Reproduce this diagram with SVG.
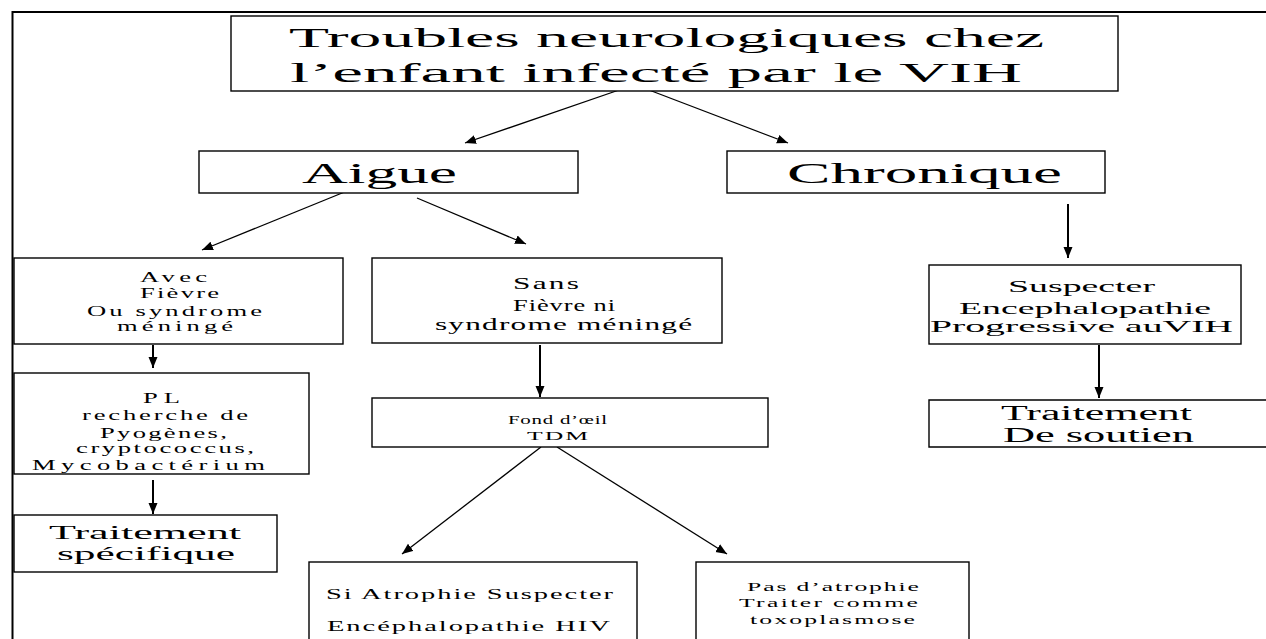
<svg xmlns="http://www.w3.org/2000/svg" width="1266" height="639" viewBox="0 0 1266 639">
  <style>
    .box { fill: #ffffff; stroke: #000000; stroke-width: 1.4; }
    text { font-family: 'Liberation Serif', 'DejaVu Serif', serif; fill: #000000; }
    .edge { stroke: #000000; stroke-width: 1.3; fill: none; marker-end: url(#head); }
    .vedge { stroke: #000000; stroke-width: 2; fill: none; marker-end: url(#head); }
  </style>
  <defs>
    <marker id="head" markerUnits="userSpaceOnUse" markerWidth="12" markerHeight="10" refX="11" refY="5" orient="auto">
      <path d="M0,0.5 L11,5 L0,9.5 z" fill="#000000"/>
    </marker>
  </defs>

  <rect width="1266" height="639" fill="#ffffff"/>

  <!-- outer frame: top and left sides only -->
  <path d="M12.5,640 L12.5,12 L1266,12" fill="none" stroke="#000000" stroke-width="2"/>

  <g id="connectors">
    <line class="edge" x1="619" y1="90" x2="465" y2="143"/>
    <line class="edge" x1="649" y1="90" x2="788" y2="143"/>
    <line class="edge" x1="347" y1="191" x2="202" y2="250"/>
    <line class="edge" x1="417" y1="198" x2="526" y2="244"/>
    <line class="vedge" x1="1068" y1="204" x2="1068" y2="258"/>
    <line class="vedge" x1="153" y1="345" x2="153" y2="368"/>
    <line class="vedge" x1="153" y1="480" x2="153" y2="514"/>
    <line class="vedge" x1="540" y1="345" x2="540" y2="397"/>
    <line class="vedge" x1="1099" y1="345" x2="1099" y2="398"/>
    <line class="edge" x1="541" y1="447" x2="402" y2="554"/>
    <line class="edge" x1="557" y1="447" x2="727" y2="554"/>
  </g>

  <!-- large labels: wide serif stretched to the line width -->
  <g id="title">
    <rect class="box" x="231" y="16" width="887" height="75"/>
    <text font-size="28" x="289" y="47" textLength="755" lengthAdjust="spacingAndGlyphs">Troubles neurologiques chez</text>
    <text font-size="28" x="290" y="82" textLength="732" lengthAdjust="spacingAndGlyphs">l’enfant infecté par le VIH</text>
  </g>

  <g id="aigue">
    <rect class="box" x="199" y="151" width="379" height="42"/>
    <text font-size="29" x="302" y="183" textLength="155" lengthAdjust="spacingAndGlyphs">Aigue</text>
  </g>

  <g id="chronique">
    <rect class="box" x="727" y="151" width="378" height="42"/>
    <text font-size="29" x="787" y="183" textLength="275" lengthAdjust="spacingAndGlyphs">Chronique</text>
  </g>

  <!-- small labels: glyphs widened 1.9x, then letter-spaced to width -->
  <g id="avec-fievre">
    <rect class="box" x="14" y="258" width="329" height="86"/>
    <text font-size="14" transform="translate(140 0) scale(1.9 1)" x="0" y="282" textLength="35.3" lengthAdjust="spacing">Avec</text>
    <text font-size="14" transform="translate(140 0) scale(1.9 1)" x="0" y="298.5" textLength="41.6" lengthAdjust="spacing">Fièvre</text>
    <text font-size="14" transform="translate(87 0) scale(1.9 1)" x="0" y="316" textLength="92.1" lengthAdjust="spacing">Ou syndrome</text>
    <text font-size="14" transform="translate(117 0) scale(1.9 1)" x="0" y="331" textLength="61.1" lengthAdjust="spacing">méningé</text>
  </g>

  <g id="ponction-lombaire">
    <rect class="box" x="14" y="373" width="295" height="101"/>
    <text font-size="14" transform="translate(143 0) scale(1.9 1)" x="0" y="403" textLength="19.5" lengthAdjust="spacing">PL</text>
    <text font-size="14" transform="translate(82 0) scale(1.9 1)" x="0" y="420" textLength="87.4" lengthAdjust="spacing">recherche de</text>
    <text font-size="14" transform="translate(100 0) scale(1.9 1)" x="0" y="438" textLength="66.8" lengthAdjust="spacing">Pyogènes,</text>
    <text font-size="14" transform="translate(76 0) scale(1.9 1)" x="0" y="453.5" textLength="93.7" lengthAdjust="spacing">cryptococcus,</text>
    <text font-size="14" transform="translate(32 0) scale(1.9 1)" x="0" y="470.5" textLength="122.6" lengthAdjust="spacing">Mycobactérium</text>
  </g>

  <g id="traitement-specifique">
    <rect class="box" x="14" y="515" width="263" height="57"/>
    <text font-size="19" x="49" y="538.5" textLength="192" lengthAdjust="spacingAndGlyphs">Traitement</text>
    <text font-size="19" x="57" y="560" textLength="178" lengthAdjust="spacingAndGlyphs">spécifique</text>
  </g>

  <g id="sans-fievre">
    <rect class="box" x="372" y="258" width="350" height="85"/>
    <text font-size="16.5" transform="translate(513 0) scale(1.9 1)" x="0" y="289.5" textLength="34.7" lengthAdjust="spacing">Sans</text>
    <text font-size="16.5" transform="translate(513 0) scale(1.6 1)" x="0" y="311.5" textLength="63.8" lengthAdjust="spacing">Fièvre ni</text>
    <text font-size="16.5" transform="translate(435 0) scale(1.9 1)" x="0" y="330" textLength="135.3" lengthAdjust="spacing">syndrome méningé</text>
  </g>

  <g id="fond-oeil">
    <rect class="box" x="372" y="398" width="396" height="49"/>
    <text font-size="13.5" transform="translate(508 0) scale(1.55 1)" x="0" y="424" textLength="63.9" lengthAdjust="spacing">Fond d’œil</text>
    <text font-size="13.5" transform="translate(527 0) scale(1.9 1)" x="0" y="440.5" textLength="32.1" lengthAdjust="spacing">TDM</text>
  </g>

  <g id="si-atrophie">
    <rect class="box" x="309" y="562" width="328" height="80"/>
    <text font-size="15" transform="translate(326 0) scale(1.9 1)" x="0" y="599.5" textLength="151.1" lengthAdjust="spacing">Si Atrophie Suspecter</text>
    <text font-size="15" transform="translate(327 0) scale(1.9 1)" x="0" y="631" textLength="148.9" lengthAdjust="spacing">Encéphalopathie HIV</text>
  </g>

  <g id="pas-atrophie">
    <rect class="box" x="696" y="562" width="273" height="80"/>
    <text font-size="13.5" transform="translate(747 0) scale(1.9 1)" x="0" y="591" textLength="90.5" lengthAdjust="spacing">Pas d’atrophie</text>
    <text font-size="13.5" transform="translate(739 0) scale(1.9 1)" x="0" y="607.5" textLength="94.2" lengthAdjust="spacing">Traiter comme</text>
    <text font-size="13.5" transform="translate(750 0) scale(1.9 1)" x="0" y="624" textLength="86.8" lengthAdjust="spacing">toxoplasmose</text>
  </g>

  <g id="encephalopathie-progressive">
    <rect class="box" x="929" y="265" width="312" height="79"/>
    <text font-size="16.5" x="1008" y="291.5" textLength="147" lengthAdjust="spacingAndGlyphs">Suspecter</text>
    <text font-size="16.5" x="959" y="313.5" textLength="252" lengthAdjust="spacingAndGlyphs">Encephalopathie</text>
    <text font-size="16.5" x="930" y="331.5" textLength="303" lengthAdjust="spacingAndGlyphs">Progressive auVIH</text>
  </g>

  <g id="traitement-soutien">
    <path class="box" d="M1267,400 L929,400 L929,447 L1267,447"/>
    <text font-size="20" x="1001" y="420" textLength="191" lengthAdjust="spacingAndGlyphs">Traitement</text>
    <text font-size="20" x="1003" y="441.5" textLength="191" lengthAdjust="spacingAndGlyphs">De soutien</text>
  </g>
</svg>
